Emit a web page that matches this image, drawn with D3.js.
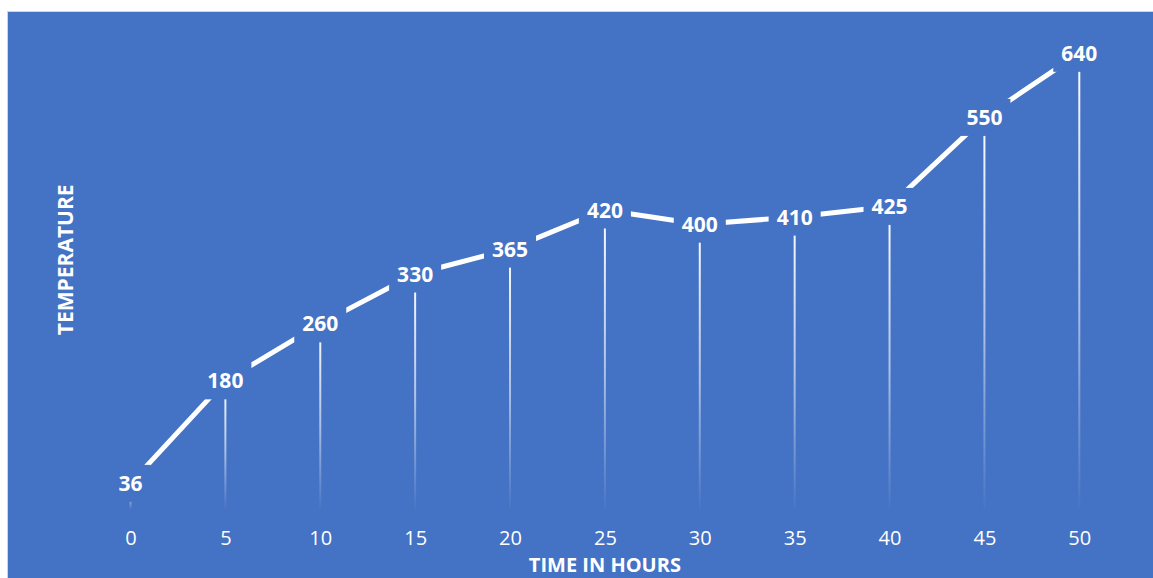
<!DOCTYPE html>
<html>
<head>
<meta charset="utf-8">
<script src="https://cdn.jsdelivr.net/npm/d3@7"></script>
<style>
  html, body { margin: 0; padding: 0; background: #ffffff; }
  svg { display: block; }
  text { font-family: "Open Sans", "DejaVu Sans", sans-serif; fill: #ffffff; }
</style>
</head>
<body>
<svg id="chart" width="1153" height="578"></svg>
<script>
// Temperature readings over time
const hours = [0, 5, 10, 15, 20, 25, 30, 35, 40, 45, 50];
const temperatures = [36, 180, 260, 330, 365, 420, 400, 410, 425, 550, 640];
const xTicks = [0, 5, 10, 15, 20, 25, 30, 35, 40, 45, 50];

const xTitle = "TIME IN HOURS";
const yTitle = "TEMPERATURE";

const W = 1153, H = 578;
const BLUE = "#4472C4";

const svg = d3.select("#chart");

// Chart area background with a thin grey frame on the top and left
svg.append("rect").attr("x", 8).attr("y", 12).attr("width", W - 8).attr("height", H - 12).attr("fill", BLUE);
svg.append("line").attr("x1", 7.5).attr("x2", 7.5).attr("y1", 11).attr("y2", H).attr("stroke", "#d4d4d4").attr("stroke-width", 1);
svg.append("line").attr("x1", 7).attr("x2", W).attr("y1", 11.5).attr("y2", 11.5).attr("stroke", "#d4d4d4").attr("stroke-width", 1);

const x = d3.scaleLinear().domain([0, 50]).range([130.5, 1079.3]);
const y = d3.scaleLinear().domain([0, 700]).range([509, 10.6]);

const data = hours.map((h, i) => ({ h, t: temperatures[i] }));

// Fading gradient for the drop lines
const defs = svg.append("defs");
const grad = defs.append("linearGradient")
  .attr("id", "dropFade")
  .attr("x1", 0).attr("y1", 0).attr("x2", 0).attr("y2", 1);
grad.append("stop").attr("offset", "0%").attr("stop-color", "#ffffff").attr("stop-opacity", 1);
grad.append("stop").attr("offset", "55%").attr("stop-color", "#ffffff").attr("stop-opacity", 0.55);
grad.append("stop").attr("offset", "100%").attr("stop-color", "#ffffff").attr("stop-opacity", 0.02);

// Drop lines from each point to the baseline
svg.append("g").selectAll("rect")
  .data(data)
  .join("rect")
  .attr("x", d => x(d.h) - 1)
  .attr("y", d => y(d.t))
  .attr("width", 2)
  .attr("height", d => y(0) - y(d.t))
  .attr("fill", "url(#dropFade)");

// Series line
const line = d3.line().x(d => x(d.h)).y(d => y(d.t));
svg.append("path")
  .datum(data)
  .attr("d", line)
  .attr("fill", "none")
  .attr("stroke", "#ffffff")
  .attr("stroke-width", 5)
  .attr("stroke-linejoin", "round");

// Data labels with a background box that breaks the line
const labels = svg.append("g").selectAll("g")
  .data(data)
  .join("g")
  .attr("transform", d => `translate(${x(d.h)},${y(d.t)})`);

labels.append("rect").attr("fill", BLUE);
labels.append("text")
  .attr("text-anchor", "middle")
  .attr("dy", "0.36em")
  .style("font-size", "21px")
  .style("font-weight", 700)
  .text(d => d.t);

labels.each(function () {
  const g = d3.select(this);
  const bb = g.select("text").node().getBBox();
  const padX = 8, halfH = 18.5;
  g.select("rect")
    .attr("x", bb.x - padX)
    .attr("y", -halfH)
    .attr("width", bb.width + padX * 2)
    .attr("height", halfH * 2);
});

// Horizontal axis labels
const xAxis = d3.axisBottom(x).tickValues(xTicks).tickSize(0).tickPadding(0).tickFormat(d3.format("d"));
const axisG = svg.append("g")
  .attr("transform", `translate(0,${y(0)})`)
  .call(xAxis);
axisG.select(".domain").remove();
axisG.selectAll("text")
  .attr("y", 35.5)
  .attr("dy", 0)
  .style("font-size", "20px")
  .style("font-family", "\"Open Sans\", sans-serif")
  .attr("fill", "#ffffff");

// Axis titles
svg.append("text")
  .attr("x", (x.range()[0] + x.range()[1]) / 2)
  .attr("y", 572)
  .attr("text-anchor", "middle")
  .style("font-size", "20px")
  .style("font-weight", 700)
  .text(xTitle);

svg.append("text")
  .attr("transform", `translate(73,${(y.range()[0] + y.range()[1]) / 2}) rotate(-90)`)
  .attr("text-anchor", "middle")
  .style("font-size", "21px")
  .style("font-weight", 700)
  .text(yTitle);
</script>
</body>
</html>
